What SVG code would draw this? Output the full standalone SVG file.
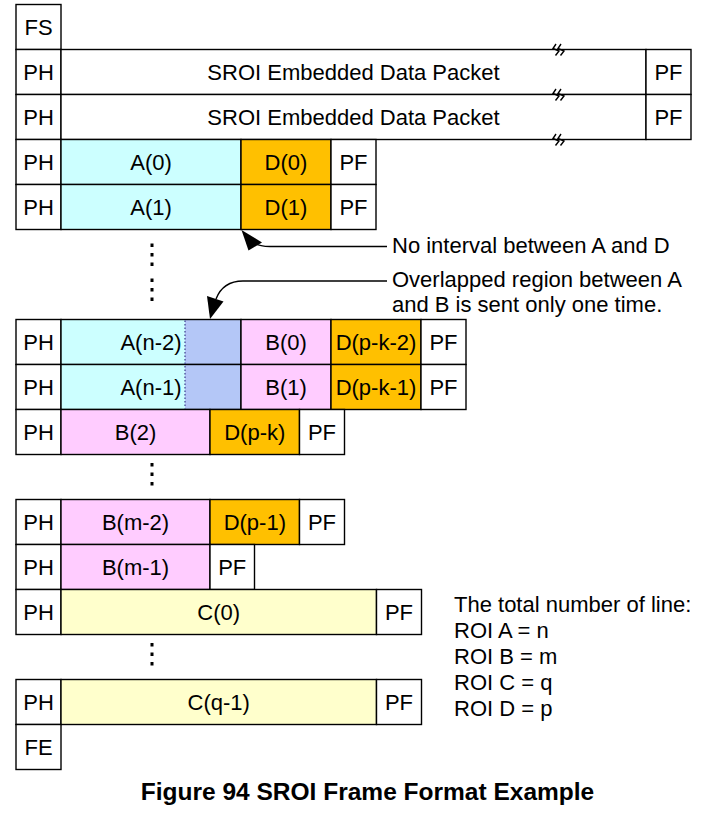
<svg xmlns="http://www.w3.org/2000/svg" width="722" height="813" viewBox="0 0 722 813">
<style>
  .c { stroke: #000; stroke-width: 1.4; }
  .w { fill: #fff; }
  .cy { fill: #CCFFFF; }
  .or { fill: #FFC000; }
  .pk { fill: #FFCCFF; }
  .ye { fill: #FFFFCC; }
  .bl { fill: #B4C7F7; }
  text { font-family: "Liberation Sans", Arial, sans-serif; font-size: 22px; fill: #000; }
  .m { text-anchor: middle; }
  .title { font-weight: bold; font-size: 24.5px; }
  .dot { fill: #000; }
  .brk { fill: none; stroke: #000; stroke-width: 1.4; }
  .con { fill: none; stroke: #000; stroke-width: 1.4; }
</style>
<rect width="722" height="813" fill="#fff"/>

<!-- Row 0 -->
<g id="fs"><rect class="c w" x="16" y="4.5" width="45" height="45"/><text class="m" x="38.5" y="35">FS</text></g>

<!-- Row 1 -->
<g id="ph1"><rect class="c w" x="16" y="49.5" width="45" height="45"/><text class="m" x="38.5" y="80">PH</text></g>
<g id="sroi1"><rect class="c w" x="61" y="49.5" width="585" height="45"/><text class="m" x="353.5" y="80">SROI Embedded Data Packet</text></g>
<g id="pf1"><rect class="c w" x="646" y="49.5" width="45" height="45"/><text class="m" x="668.5" y="80">PF</text></g>

<!-- Row 2 -->
<g id="ph2"><rect class="c w" x="16" y="94.5" width="45" height="45"/><text class="m" x="38.5" y="125">PH</text></g>
<g id="sroi2"><rect class="c w" x="61" y="94.5" width="585" height="45"/><text class="m" x="353.5" y="125">SROI Embedded Data Packet</text></g>
<g id="pf2"><rect class="c w" x="646" y="94.5" width="45" height="45"/><text class="m" x="668.5" y="125">PF</text></g>

<!-- Break marks -->
<g id="breaks">
  <path class="brk" d="M556,44 L553,48.5 L559,51 L555.5,55.5 M561,44 L558,48.5 L564,51 L560.5,55.5" transform="translate(0,0)"/>
  <path class="brk" d="M556,44 L553,48.5 L559,51 L555.5,55.5 M561,44 L558,48.5 L564,51 L560.5,55.5" transform="translate(0,45)"/>
  <path class="brk" d="M556,44 L553,48.5 L559,51 L555.5,55.5 M561,44 L558,48.5 L564,51 L560.5,55.5" transform="translate(0,90)"/>
</g>

<!-- Row 3 -->
<g id="ph3"><rect class="c w" x="16" y="139.5" width="45" height="45"/><text class="m" x="38.5" y="170">PH</text></g>
<g id="a0"><rect class="c cy" x="61" y="139.5" width="180" height="45"/><text class="m" x="151" y="170">A(0)</text></g>
<g id="d0"><rect class="c or" x="241" y="139.5" width="90" height="45"/><text class="m" x="286" y="170">D(0)</text></g>
<g id="pf3"><rect class="c w" x="331" y="139.5" width="45" height="45"/><text class="m" x="353.5" y="170">PF</text></g>

<!-- Row 4 -->
<g id="ph4"><rect class="c w" x="16" y="184.5" width="45" height="45"/><text class="m" x="38.5" y="215">PH</text></g>
<g id="a1"><rect class="c cy" x="61" y="184.5" width="180" height="45"/><text class="m" x="151" y="215">A(1)</text></g>
<g id="d1"><rect class="c or" x="241" y="184.5" width="90" height="45"/><text class="m" x="286" y="215">D(1)</text></g>
<g id="pf4"><rect class="c w" x="331" y="184.5" width="45" height="45"/><text class="m" x="353.5" y="215">PF</text></g>

<!-- Ellipsis dots -->
<g id="dots">
  <rect class="dot" x="150.5" y="243.5" width="3" height="3.5"/>
  <rect class="dot" x="150.5" y="253" width="3" height="3.5"/>
  <rect class="dot" x="150.5" y="262.5" width="3" height="3.5"/>
  <rect class="dot" x="150.5" y="278.5" width="3" height="3.5"/>
  <rect class="dot" x="150.5" y="288" width="3" height="3.5"/>
  <rect class="dot" x="150.5" y="297.5" width="3" height="3.5"/>
  <rect class="dot" x="150.5" y="463" width="3" height="3.5"/>
  <rect class="dot" x="150.5" y="472.5" width="3" height="3.5"/>
  <rect class="dot" x="150.5" y="482" width="3" height="3.5"/>
  <rect class="dot" x="150.5" y="643" width="3" height="3.5"/>
  <rect class="dot" x="150.5" y="652.5" width="3" height="3.5"/>
  <rect class="dot" x="150.5" y="662" width="3" height="3.5"/>
</g>

<!-- Row 7 -->
<g id="ph7"><rect class="c w" x="16" y="319.5" width="45" height="45"/><text class="m" x="38.5" y="350">PH</text></g>
<g id="an2">
  <rect class="cy" x="61" y="319.5" width="124" height="45"/>
  <rect class="bl" x="185" y="319.5" width="56" height="45"/>
  <rect class="c" fill="none" x="61" y="319.5" width="180" height="45"/>
  <text class="m" x="151" y="350">A(n-2)</text>
</g>
<g id="b0"><rect class="c pk" x="241" y="319.5" width="90" height="45"/><text class="m" x="286" y="350">B(0)</text></g>
<g id="dpk2"><rect class="c or" x="331" y="319.5" width="90" height="45"/><text class="m" x="376" y="350">D(p-k-2)</text></g>
<g id="pf7"><rect class="c w" x="421" y="319.5" width="45" height="45"/><text class="m" x="443.5" y="350">PF</text></g>

<!-- Row 8 -->
<g id="ph8"><rect class="c w" x="16" y="364.5" width="45" height="45"/><text class="m" x="38.5" y="395">PH</text></g>
<g id="an1">
  <rect class="cy" x="61" y="364.5" width="124" height="45"/>
  <rect class="bl" x="185" y="364.5" width="56" height="45"/>
  <rect class="c" fill="none" x="61" y="364.5" width="180" height="45"/>
  <text class="m" x="151" y="395">A(n-1)</text>
</g>
<g id="b1"><rect class="c pk" x="241" y="364.5" width="90" height="45"/><text class="m" x="286" y="395">B(1)</text></g>
<g id="dpk1"><rect class="c or" x="331" y="364.5" width="90" height="45"/><text class="m" x="376" y="395">D(p-k-1)</text></g>
<g id="pf8"><rect class="c w" x="421" y="364.5" width="45" height="45"/><text class="m" x="443.5" y="395">PF</text></g>
<line x1="185" y1="320.5" x2="185" y2="408.5" stroke="#3A3A8C" stroke-width="1.2" stroke-dasharray="1.5,2"/>

<!-- Row 9 -->
<g id="ph9"><rect class="c w" x="16" y="409.5" width="45" height="45"/><text class="m" x="38.5" y="440">PH</text></g>
<g id="b2"><rect class="c pk" x="61" y="409.5" width="149" height="45"/><text class="m" x="135.5" y="440">B(2)</text></g>
<g id="dpk"><rect class="c or" x="210" y="409.5" width="89.5" height="45"/><text class="m" x="254.8" y="440">D(p-k)</text></g>
<g id="pf9"><rect class="c w" x="299.5" y="409.5" width="45" height="45"/><text class="m" x="322" y="440">PF</text></g>

<!-- Row 11 -->
<g id="ph11"><rect class="c w" x="16" y="499.5" width="45" height="45"/><text class="m" x="38.5" y="530">PH</text></g>
<g id="bm2"><rect class="c pk" x="61" y="499.5" width="149" height="45"/><text class="m" x="135.5" y="530">B(m-2)</text></g>
<g id="dp1"><rect class="c or" x="210" y="499.5" width="89.5" height="45"/><text class="m" x="254.8" y="530">D(p-1)</text></g>
<g id="pf11"><rect class="c w" x="299.5" y="499.5" width="45" height="45"/><text class="m" x="322" y="530">PF</text></g>

<!-- Row 12 -->
<g id="ph12"><rect class="c w" x="16" y="544.5" width="45" height="45"/><text class="m" x="38.5" y="575">PH</text></g>
<g id="bm1"><rect class="c pk" x="61" y="544.5" width="149" height="45"/><text class="m" x="135.5" y="575">B(m-1)</text></g>
<g id="pf12"><rect class="c w" x="210" y="544.5" width="44.5" height="45"/><text class="m" x="232.2" y="575">PF</text></g>

<!-- Row 13 -->
<g id="ph13"><rect class="c w" x="16" y="589.5" width="45" height="45"/><text class="m" x="38.5" y="620">PH</text></g>
<g id="c0"><rect class="c ye" x="61" y="589.5" width="315.5" height="45"/><text class="m" x="218.7" y="620">C(0)</text></g>
<g id="pf13"><rect class="c w" x="376.5" y="589.5" width="45" height="45"/><text class="m" x="399" y="620">PF</text></g>

<!-- Row 15 -->
<g id="ph15"><rect class="c w" x="16" y="679.5" width="45" height="45"/><text class="m" x="38.5" y="710">PH</text></g>
<g id="cq1"><rect class="c ye" x="61" y="679.5" width="315.5" height="45"/><text class="m" x="218.7" y="710">C(q-1)</text></g>
<g id="pf15"><rect class="c w" x="376.5" y="679.5" width="45" height="45"/><text class="m" x="399" y="710">PF</text></g>

<!-- Row 16 -->
<g id="fe"><rect class="c w" x="16" y="724.5" width="45" height="45"/><text class="m" x="38.5" y="755">FE</text></g>

<!-- Connectors -->
<g id="connectors">
  <path class="con" d="M387,246.5 H270 Q260,246.5 254,243"/>
  <polygon points="241.5,230 248.5,250.5 262,242.5" fill="#000"/>
  <path class="con" d="M387,281 H243 Q223,281 216,299"/>
  <polygon points="210,319 207,296 223.5,301.5" fill="#000"/>
</g>

<!-- Annotations -->
<g id="note-interval"><text x="392" y="253">No interval between A and D</text></g>
<g id="note-overlap">
  <text x="392" y="287">Overlapped region between A</text>
  <text x="392" y="312">and B is sent only one time.</text>
</g>
<g id="legend">
  <text x="454" y="612">The total number of line:</text>
  <text x="454" y="638">ROI A = n</text>
  <text x="454" y="664">ROI B = m</text>
  <text x="454" y="690">ROI C = q</text>
  <text x="454" y="716">ROI D = p</text>
</g>

<text class="title m" x="367.5" y="800">Figure 94 SROI Frame Format Example</text>
</svg>
